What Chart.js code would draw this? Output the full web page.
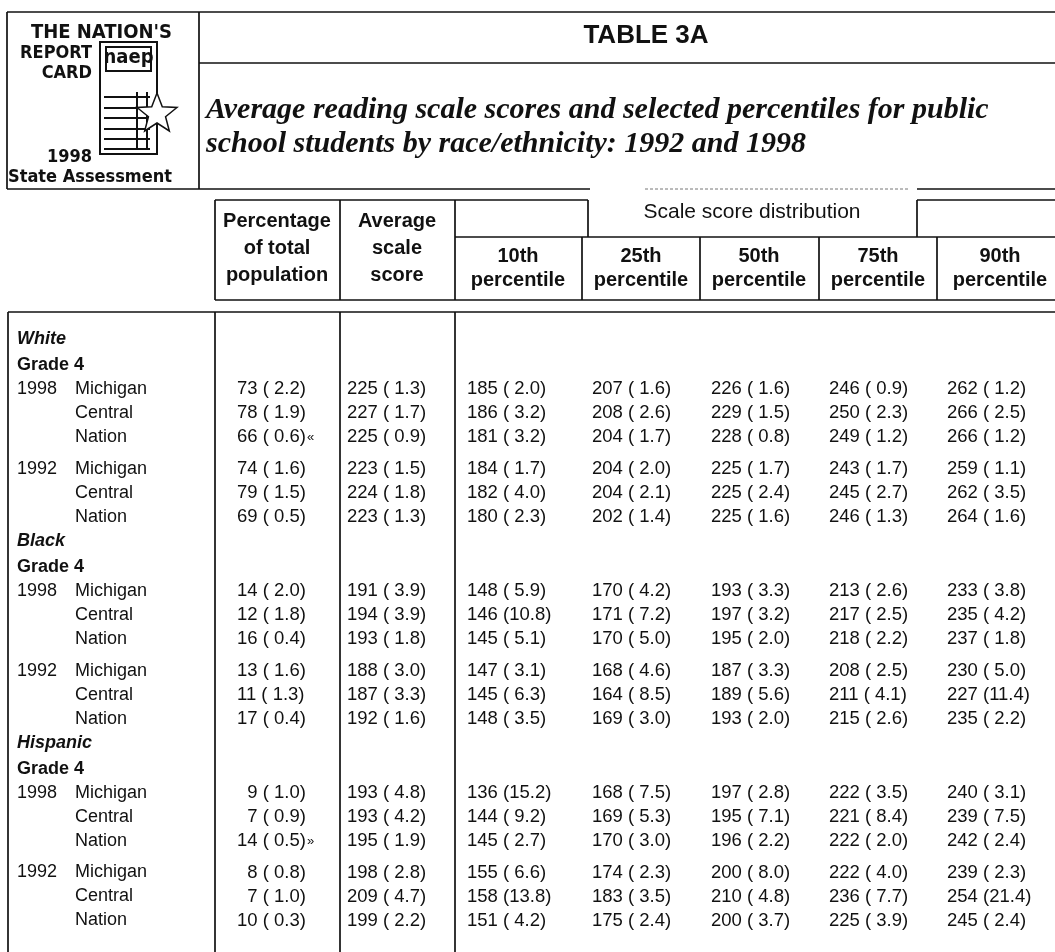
<!DOCTYPE html>
<html>
<head>
<meta charset="utf-8">
<script src="https://cdn.jsdelivr.net/npm/chart.js@4.4.1/dist/chart.umd.min.js"></script>
<style>
  html, body { margin: 0; padding: 0; background: #fff; }
  canvas { display: block; }
</style>
</head>
<body>
<canvas id="table3a" width="1055" height="952"></canvas>
<script>
// row structure
const groups = ['White', 'Black', 'Hispanic'];
const gradeLabel = 'Grade 4';
const years = ['1998', '1992'];
const places = ['Michigan', 'Central', 'Nation'];

// column heads
const headPct = ['Percentage', 'of total', 'population'];
const headAvg = ['Average', 'scale', 'score'];
const percentileNames = ['10th', '25th', '50th', '75th', '90th'];
const spanTitle = 'Scale score distribution';

// values, in row order: group > year > place
const pctPop   = [73, 78, 66, 74, 79, 69, 14, 12, 16, 13, 11, 17, 9, 7, 14, 8, 7, 10];
const pctPopSE = [2.2, 1.9, 0.6, 1.6, 1.5, 0.5, 2.0, 1.8, 0.4, 1.6, 1.3, 0.4, 1.0, 0.9, 0.5, 0.8, 1.0, 0.3];
const pctNote  = ['', '', '«', '', '', '', '', '', '', '', '', '', '', '', '»', '', '', ''];
const avgScore = [225, 227, 225, 223, 224, 223, 191, 194, 193, 188, 187, 192, 193, 193, 195, 198, 209, 199];
const avgSE    = [1.3, 1.7, 0.9, 1.5, 1.8, 1.3, 3.9, 3.9, 1.8, 3.0, 3.3, 1.6, 4.8, 4.2, 1.9, 2.8, 4.7, 2.2];
const p10   = [185, 186, 181, 184, 182, 180, 148, 146, 145, 147, 145, 148, 136, 144, 145, 155, 158, 151];
const p10SE = [2.0, 3.2, 3.2, 1.7, 4.0, 2.3, 5.9, 10.8, 5.1, 3.1, 6.3, 3.5, 15.2, 9.2, 2.7, 6.6, 13.8, 4.2];
const p25   = [207, 208, 204, 204, 204, 202, 170, 171, 170, 168, 164, 169, 168, 169, 170, 174, 183, 175];
const p25SE = [1.6, 2.6, 1.7, 2.0, 2.1, 1.4, 4.2, 7.2, 5.0, 4.6, 8.5, 3.0, 7.5, 5.3, 3.0, 2.3, 3.5, 2.4];
const p50   = [226, 229, 228, 225, 225, 225, 193, 197, 195, 187, 189, 193, 197, 195, 196, 200, 210, 200];
const p50SE = [1.6, 1.5, 0.8, 1.7, 2.4, 1.6, 3.3, 3.2, 2.0, 3.3, 5.6, 2.0, 2.8, 7.1, 2.2, 8.0, 4.8, 3.7];
const p75   = [246, 250, 249, 243, 245, 246, 213, 217, 218, 208, 211, 215, 222, 221, 222, 222, 236, 225];
const p75SE = [0.9, 2.3, 1.2, 1.7, 2.7, 1.3, 2.6, 2.5, 2.2, 2.5, 4.1, 2.6, 3.5, 8.4, 2.0, 4.0, 7.7, 3.9];
const p90   = [262, 266, 266, 259, 262, 264, 233, 235, 237, 230, 227, 235, 240, 239, 242, 239, 254, 245];
const p90SE = [1.2, 2.5, 1.2, 1.1, 3.5, 1.6, 3.8, 4.2, 1.8, 5.0, 11.4, 2.2, 3.1, 7.5, 2.4, 2.3, 21.4, 2.4];

const valueCols = [
  { vals: pctPop, se: pctPopSE, notes: pctNote, digits: 2 },
  { vals: avgScore, se: avgSE, digits: 3 },
  { vals: p10, se: p10SE, digits: 3 },
  { vals: p25, se: p25SE, digits: 3 },
  { vals: p50, se: p50SE, digits: 3 },
  { vals: p75, se: p75SE, digits: 3 },
  { vals: p90, se: p90SE, digits: 3 },
];

// layout (pixels)
const colX = [237, 347, 467, 592, 711, 829, 947];
const rowPitch = 24, firstRowY = 339;
const ink = '#111';
const bodyFont = '18px "Liberation Sans", Arial, sans-serif';
const cellFont = '18.5px "Liberation Sans", Arial, sans-serif';

// row slots, in row units
const rows = [];
const dataSlots = [];
let slot = 0;
groups.forEach((g) => {
  rows.push({ kind: 'group', text: g, slot: slot });
  slot += 1.08;
  rows.push({ kind: 'grade', text: gradeLabel, slot: slot });
  years.forEach((y, yi) => {
    places.forEach((p, pi) => {
      slot += (yi === 1 && pi === 0) ? 1.33 : 1;
      rows.push({ kind: 'data', year: pi === 0 ? y : '', place: p, slot: slot });
      dataSlots.push(slot);
    });
  });
  slot += 1;
});

function fmt(v, se, digits) {
  const n = String(v);
  const s = (se < 10 ? ' ' : '') + se.toFixed(1);
  return { pad: digits - n.length, text: n + ' (' + s + ')' };
}

function line(ctx, x1, y1, x2, y2) {
  ctx.beginPath();
  ctx.moveTo(x1, y1);
  ctx.lineTo(x2, y2);
  ctx.stroke();
}

const tablePlugin = {
  id: 'tablePlugin',
  afterDraw(chart) {
    const ctx = chart.ctx;
    const yS = chart.scales.y;
    ctx.save();
    ctx.strokeStyle = ink;
    ctx.fillStyle = ink;
    ctx.lineWidth = 1.7;

    // header frame
    line(ctx, 7, 12, 1055, 12);
    line(ctx, 7, 12, 7, 189);
    line(ctx, 199, 12, 199, 189);
    line(ctx, 199, 63, 1055, 63);
    line(ctx, 7, 189, 590, 189);
    line(ctx, 917, 189, 1055, 189);
    ctx.save();
    ctx.setLineDash([3, 2]);
    ctx.strokeStyle = '#777';
    ctx.lineWidth = 1;
    line(ctx, 645, 189, 910, 189);
    ctx.restore();

    // logo
    ctx.textBaseline = 'middle';
    ctx.font = 'bold 20px "DejaVu Sans Condensed", "Liberation Sans", sans-serif';
    ctx.textAlign = 'right';
    ctx.fillText("THE NATION'S", 172, 33);
    ctx.font = 'bold 18px "DejaVu Sans Condensed", "Liberation Sans", sans-serif';
    ctx.fillText('REPORT', 92, 53);
    ctx.fillText('CARD', 92, 73);
    ctx.fillText('1998', 92, 157);
    ctx.textAlign = 'center';
    ctx.fillText('State Assessment', 90, 177);
    ctx.lineWidth = 2;
    ctx.strokeRect(100, 42, 57, 112);
    ctx.strokeRect(106, 47, 45, 24);
    ctx.font = 'bold 20px "DejaVu Sans Condensed", "Liberation Sans", sans-serif';
    ctx.fillText('naep', 128.5, 58);
    [97, 108, 118, 129, 139, 149].forEach((y) => line(ctx, 104, y, 150, y));
    line(ctx, 137, 92, 137, 150);
    line(ctx, 147, 92, 147, 150);
    ctx.beginPath();
    for (let i = 0; i < 10; i++) {
      const r = i % 2 === 0 ? 21 : 9;
      const a = -Math.PI / 2 + i * Math.PI / 5;
      const px = 157 + r * Math.cos(a), py = 114 + r * Math.sin(a);
      if (i === 0) ctx.moveTo(px, py); else ctx.lineTo(px, py);
    }
    ctx.closePath();
    ctx.fillStyle = '#fff';
    ctx.fill();
    ctx.lineWidth = 1.5;
    ctx.stroke();
    ctx.fillStyle = ink;

    // titles
    ctx.textAlign = 'center';
    ctx.font = 'bold 26px "Liberation Sans", Arial, sans-serif';
    ctx.fillText('TABLE 3A', 646, 36);
    ctx.textAlign = 'left';
    ctx.font = 'bold italic 30px "Liberation Serif", "Times New Roman", serif';
    ctx.fillText('Average reading scale scores and selected percentiles for public', 206, 110);
    ctx.fillText('school students by race/ethnicity: 1992 and 1998', 206, 144);

    // column header frame
    ctx.lineWidth = 1.7;
    line(ctx, 215, 200, 588, 200);
    line(ctx, 917, 200, 1055, 200);
    [215, 340, 455].forEach((x) => line(ctx, x, 200, x, 300));
    [588, 917].forEach((x) => line(ctx, x, 200, x, 237));
    line(ctx, 455, 237, 1055, 237);
    [582, 700, 819, 937].forEach((x) => line(ctx, x, 237, x, 300));
    line(ctx, 215, 300, 1055, 300);

    // column header text
    ctx.textAlign = 'center';
    ctx.font = 'bold 20px "Liberation Sans", Arial, sans-serif';
    headPct.forEach((t, i) => ctx.fillText(t, 277, 221 + i * 27));
    headAvg.forEach((t, i) => ctx.fillText(t, 397, 221 + i * 27));
    const pctCenters = [518, 641, 759, 878, 1000];
    percentileNames.forEach((t, i) => {
      ctx.fillText(t, pctCenters[i], 256);
      ctx.fillText('percentile', pctCenters[i], 280);
    });
    ctx.font = '21px "Liberation Sans", Arial, sans-serif';
    ctx.fillText(spanTitle, 752, 212);

    // body frame
    line(ctx, 8, 312, 1055, 312);
    [8, 215, 340, 455].forEach((x) => line(ctx, x, 312, x, 952));

    // row labels
    ctx.textAlign = 'left';
    rows.forEach((r) => {
      const y = yS.getPixelForValue(r.slot);
      if (r.kind === 'group') {
        ctx.font = 'bold italic 18px "Liberation Sans", Arial, sans-serif';
        ctx.fillText(r.text, 17, y);
      } else if (r.kind === 'grade') {
        ctx.font = 'bold 18px "Liberation Sans", Arial, sans-serif';
        ctx.fillText(r.text, 17, y);
      } else {
        ctx.font = bodyFont;
        if (r.year) ctx.fillText(r.year, 17, y);
        ctx.fillText(r.place, 75, y);
      }
    });

    // cell values, placed at each dataset point
    ctx.font = cellFont;
    const digitW = ctx.measureText('0').width;
    chart.data.datasets.forEach((ds, k) => {
      const meta = chart.getDatasetMeta(k);
      const col = valueCols[k];
      meta.data.forEach((pt, i) => {
        const f = fmt(col.vals[i], col.se[i], col.digits);
        const x0 = pt.x + f.pad * digitW;
        ctx.font = cellFont;
        ctx.fillText(f.text, x0, pt.y);
        if (col.notes && col.notes[i]) {
          const w = ctx.measureText(f.text).width;
          ctx.font = '13px "Liberation Sans", Arial, sans-serif';
          ctx.fillText(col.notes[i], x0 + w + 1, pt.y + 1);
        }
      });
    });
    ctx.restore();
  }
};

const ctx = document.getElementById('table3a');

new Chart(ctx, {
  type: 'scatter',
  data: {
    datasets: valueCols.map((c, k) => ({
      label: 'col' + k,
      data: dataSlots.map((s) => ({ x: colX[k], y: s })),
      pointRadius: 0,
      pointHoverRadius: 0,
    })),
  },
  options: {
    responsive: false,
    animation: false,
    events: [],
    layout: { padding: 0 },
    plugins: {
      legend: { display: false },
      tooltip: { enabled: false },
    },
    scales: {
      x: { type: 'linear', display: false, min: 0, max: 1055 },
      y: {
        type: 'linear',
        display: false,
        reverse: true,
        min: -firstRowY / rowPitch,
        max: (952 - firstRowY) / rowPitch,
      },
    },
  },
  plugins: [tablePlugin],
});
</script>
</body>
</html>
